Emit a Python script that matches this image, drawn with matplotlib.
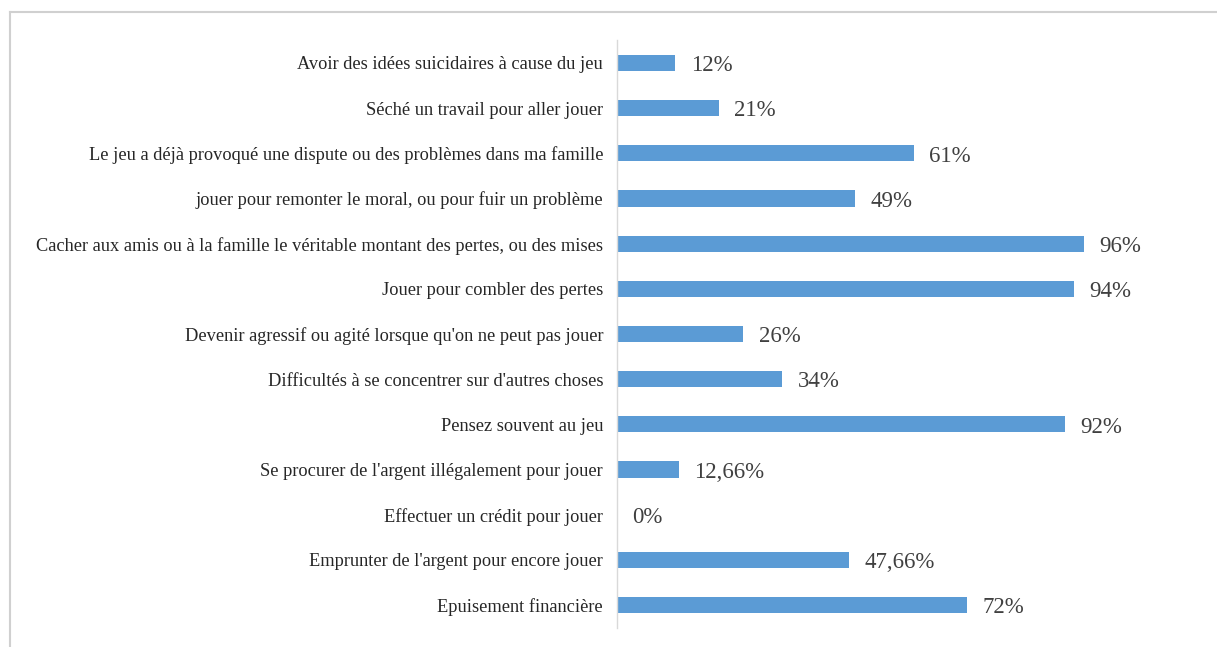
import matplotlib
matplotlib.use("Agg")
import matplotlib.pyplot as plt
from matplotlib.lines import Line2D

categories = [
    "Avoir des idées suicidaires à cause du jeu",
    "Séché un travail pour aller jouer",
    "Le jeu a déjà provoqué une dispute ou des problèmes dans ma famille",
    "jouer pour remonter le moral, ou pour fuir un problème",
    "Cacher aux amis ou à la famille le véritable montant des pertes, ou des mises",
    "Jouer pour combler des pertes",
    "Devenir agressif ou agité lorsque qu'on ne peut pas jouer",
    "Difficultés à se concentrer sur d'autres choses",
    "Pensez souvent au jeu",
    "Se procurer de l'argent illégalement pour jouer",
    "Effectuer un crédit pour jouer",
    "Emprunter de l'argent pour encore jouer",
    "Epuisement financière",
]
values = [12, 21, 61, 49, 96, 94, 26, 34, 92, 12.66, 0, 47.66, 72]
value_labels = ["12%", "21%", "61%", "49%", "96%", "94%", "26%", "34%",
                "92%", "12,66%", "0%", "47,66%", "72%"]

W, H = 1217, 647
fig = plt.figure(figsize=(W / 100, H / 100), dpi=100)
fig.patch.set_facecolor("white")

# light frame (top and left edges visible)
fig.add_artist(Line2D([10 / W, 1.0], [1 - 12 / H, 1 - 12 / H], color="#d0d0d0",
                      lw=1.5, transform=fig.transFigure))
fig.add_artist(Line2D([10 / W, 10 / W], [0, 1 - 12 / H], color="#d0d0d0",
                      lw=1.5, transform=fig.transFigure))

ax = fig.add_axes([617 / W, 0.030, 486.5 / W, 0.9076])
y = list(range(len(categories)))
ax.barh(y, values, height=0.36, color="#5B9BD5")
ax.set_xlim(0, 100)
ax.set_ylim(len(categories) - 0.5, -0.5)

for spine in ["top", "right", "bottom"]:
    ax.spines[spine].set_visible(False)
ax.spines["left"].set_color("#d9d9d9")
ax.spines["left"].set_linewidth(1.0)
ax.set_xticks([])
ax.set_yticks(y)
ax.set_yticklabels(categories, fontfamily="Liberation Serif", fontsize=13.2,
                   color="#262626")
ax.tick_params(axis="y", length=0, pad=10)

for yi, v, lab in zip(y, values, value_labels):
    ax.annotate(lab, xy=(v, yi), xytext=(11, -2), textcoords="offset points",
                ha="left", va="center", fontfamily="Liberation Serif",
                fontsize=16.5, color="#404040")

fig.savefig("out.png", dpi=100, facecolor="white")
